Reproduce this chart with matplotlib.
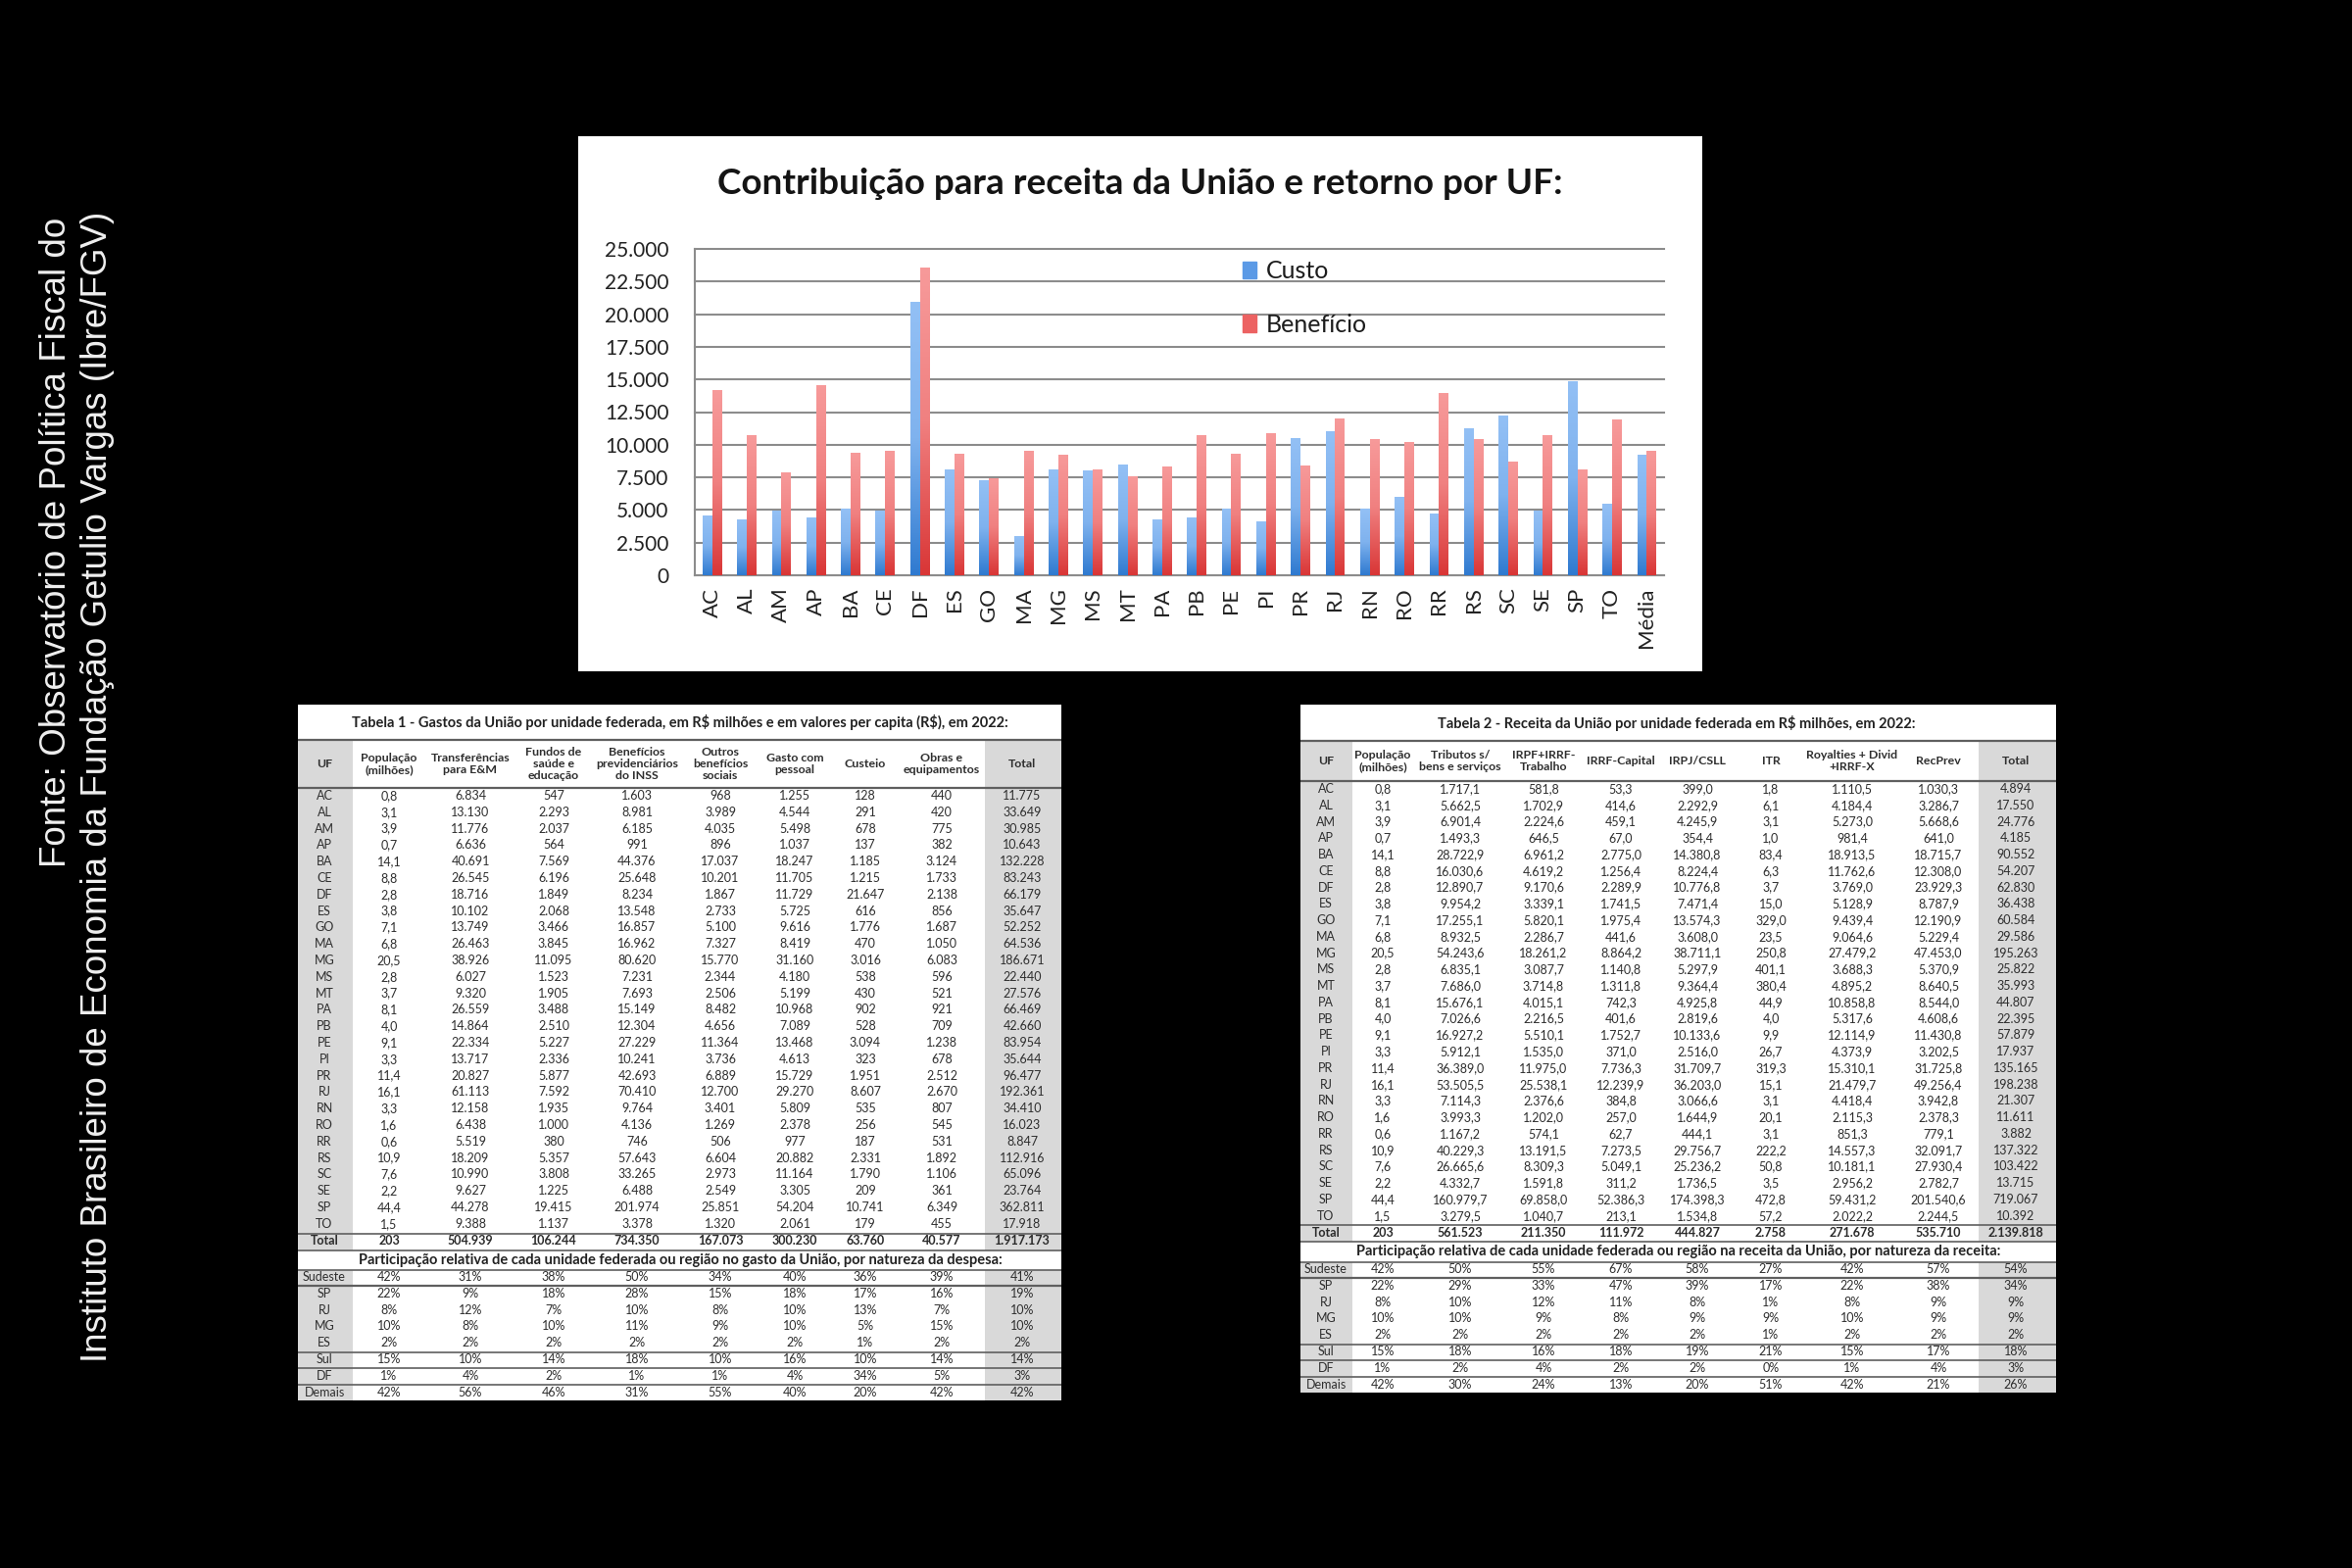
import numpy as np
import matplotlib
matplotlib.use('Agg')
import matplotlib.pyplot as plt
from matplotlib.colors import LinearSegmentedColormap
from matplotlib.patches import Rectangle, Patch

# grafico: custo e beneficio por UF (R$ per capita)
ufs_graf = ['AC', 'AL', 'AM', 'AP', 'BA', 'CE', 'DF', 'ES', 'GO', 'MA', 'MG', 'MS', 'MT', 'PA',
            'PB', 'PE', 'PI', 'PR', 'RJ', 'RN', 'RO', 'RR', 'RS', 'SC', 'SE', 'SP', 'TO', 'Média']
custo = [4570, 4250, 4915, 4360, 5100, 4890, 20900, 8100, 7230, 2975, 8100, 7970, 8475, 4225,
         4360, 5100, 4090, 10490, 11000, 5100, 5980, 4700, 11260, 12195, 4890, 14850, 5450, 9220]
beneficio = [14130, 10730, 7865, 14530, 9380, 9510, 23565, 9245, 7410, 9510, 9165, 8100, 7545, 8260,
             10730, 9245, 10865, 8370, 12010, 10390, 10150, 13920, 10415, 8635, 10730, 8100, 11875, 9510]
y_ticks = [0, 2500, 5000, 7500, 10000, 12500, 15000, 17500, 20000, 22500, 25000]
y_tick_labels = ['0', '2.500', '5.000', '7.500', '10.000', '12.500', '15.000', '17.500', '20.000', '22.500', '25.000']

# tabelas
ufs = ufs_graf[:-1]
regioes = ['Sudeste', 'SP', 'RJ', 'MG', 'ES', 'Sul', 'DF', 'Demais']
populacao = '0,8 3,1 3,9 0,7 14,1 8,8 2,8 3,8 7,1 6,8 20,5 2,8 3,7 8,1 4,0 9,1 3,3 11,4 16,1 3,3 1,6 0,6 10,9 7,6 2,2 44,4 1,5'.split()

# tabela 1
t1_titulo = 'Tabela 1 - Gastos da União por unidade federada, em R\\$ milhões e em valores per capita (R\\$), em 2022:'
t1_sub = 'Participação relativa de cada unidade federada ou região no gasto da União, por natureza da despesa:'
t1_cab = ['UF', 'População\n(milhões)', 'Transferências\npara E&M', 'Fundos de\nsaúde e\neducação',
          'Benefícios\nprevidenciários\ndo INSS', 'Outros\nbenefícios\nsociais', 'Gasto com\npessoal',
          'Custeio', 'Obras e\nequipamentos', 'Total']
t1_transf = '6.834 13.130 11.776 6.636 40.691 26.545 18.716 10.102 13.749 26.463 38.926 6.027 9.320 26.559 14.864 22.334 13.717 20.827 61.113 12.158 6.438 5.519 18.209 10.990 9.627 44.278 9.388'.split()
t1_fundos = '547 2.293 2.037 564 7.569 6.196 1.849 2.068 3.466 3.845 11.095 1.523 1.905 3.488 2.510 5.227 2.336 5.877 7.592 1.935 1.000 380 5.357 3.808 1.225 19.415 1.137'.split()
t1_inss = '1.603 8.981 6.185 991 44.376 25.648 8.234 13.548 16.857 16.962 80.620 7.231 7.693 15.149 12.304 27.229 10.241 42.693 70.410 9.764 4.136 746 57.643 33.265 6.488 201.974 3.378'.split()
t1_outros = '968 3.989 4.035 896 17.037 10.201 1.867 2.733 5.100 7.327 15.770 2.344 2.506 8.482 4.656 11.364 3.736 6.889 12.700 3.401 1.269 506 6.604 2.973 2.549 25.851 1.320'.split()
t1_pessoal = '1.255 4.544 5.498 1.037 18.247 11.705 11.729 5.725 9.616 8.419 31.160 4.180 5.199 10.968 7.089 13.468 4.613 15.729 29.270 5.809 2.378 977 20.882 11.164 3.305 54.204 2.061'.split()
t1_custeio = '128 291 678 137 1.185 1.215 21.647 616 1.776 470 3.016 538 430 902 528 3.094 323 1.951 8.607 535 256 187 2.331 1.790 209 10.741 179'.split()
t1_obras = '440 420 775 382 3.124 1.733 2.138 856 1.687 1.050 6.083 596 521 921 709 1.238 678 2.512 2.670 807 545 531 1.892 1.106 361 6.349 455'.split()
t1_total = '11.775 33.649 30.985 10.643 132.228 83.243 66.179 35.647 52.252 64.536 186.671 22.440 27.576 66.469 42.660 83.954 35.644 96.477 192.361 34.410 16.023 8.847 112.916 65.096 23.764 362.811 17.918'.split()
t1_somas = ['203', '504.939', '106.244', '734.350', '167.073', '300.230', '63.760', '40.577', '1.917.173']
t1_part = [[42, 31, 38, 50, 34, 40, 36, 39, 41],
           [22, 9, 18, 28, 15, 18, 17, 16, 19],
           [8, 12, 7, 10, 8, 10, 13, 7, 10],
           [10, 8, 10, 11, 9, 10, 5, 15, 10],
           [2, 2, 2, 2, 2, 2, 1, 2, 2],
           [15, 10, 14, 18, 10, 16, 10, 14, 14],
           [1, 4, 2, 1, 1, 4, 34, 5, 3],
           [42, 56, 46, 31, 55, 40, 20, 42, 42]]

# tabela 2
t2_titulo = 'Tabela 2 - Receita da União por unidade federada em R\\$ milhões, em 2022:'
t2_sub = 'Participação relativa de cada unidade federada ou região na receita da União, por natureza da receita:'
t2_cab = ['UF', 'População\n(milhões)', 'Tributos s/\nbens e serviços', 'IRPF+IRRF-\nTrabalho', 'IRRF-Capital',
          'IRPJ/CSLL', 'ITR', 'Royalties + Divid\n+IRRF-X', 'RecPrev', 'Total']
t2_tributos = '1.717,1 5.662,5 6.901,4 1.493,3 28.722,9 16.030,6 12.890,7 9.954,2 17.255,1 8.932,5 54.243,6 6.835,1 7.686,0 15.676,1 7.026,6 16.927,2 5.912,1 36.389,0 53.505,5 7.114,3 3.993,3 1.167,2 40.229,3 26.665,6 4.332,7 160.979,7 3.279,5'.split()
t2_irpf = '581,8 1.702,9 2.224,6 646,5 6.961,2 4.619,2 9.170,6 3.339,1 5.820,1 2.286,7 18.261,2 3.087,7 3.714,8 4.015,1 2.216,5 5.510,1 1.535,0 11.975,0 25.538,1 2.376,6 1.202,0 574,1 13.191,5 8.309,3 1.591,8 69.858,0 1.040,7'.split()
t2_irrf = '53,3 414,6 459,1 67,0 2.775,0 1.256,4 2.289,9 1.741,5 1.975,4 441,6 8.864,2 1.140,8 1.311,8 742,3 401,6 1.752,7 371,0 7.736,3 12.239,9 384,8 257,0 62,7 7.273,5 5.049,1 311,2 52.386,3 213,1'.split()
t2_irpj = '399,0 2.292,9 4.245,9 354,4 14.380,8 8.224,4 10.776,8 7.471,4 13.574,3 3.608,0 38.711,1 5.297,9 9.364,4 4.925,8 2.819,6 10.133,6 2.516,0 31.709,7 36.203,0 3.066,6 1.644,9 444,1 29.756,7 25.236,2 1.736,5 174.398,3 1.534,8'.split()
t2_itr = '1,8 6,1 3,1 1,0 83,4 6,3 3,7 15,0 329,0 23,5 250,8 401,1 380,4 44,9 4,0 9,9 26,7 319,3 15,1 3,1 20,1 3,1 222,2 50,8 3,5 472,8 57,2'.split()
t2_royalties = '1.110,5 4.184,4 5.273,0 981,4 18.913,5 11.762,6 3.769,0 5.128,9 9.439,4 9.064,6 27.479,2 3.688,3 4.895,2 10.858,8 5.317,6 12.114,9 4.373,9 15.310,1 21.479,7 4.418,4 2.115,3 851,3 14.557,3 10.181,1 2.956,2 59.431,2 2.022,2'.split()
t2_recprev = '1.030,3 3.286,7 5.668,6 641,0 18.715,7 12.308,0 23.929,3 8.787,9 12.190,9 5.229,4 47.453,0 5.370,9 8.640,5 8.544,0 4.608,6 11.430,8 3.202,5 31.725,8 49.256,4 3.942,8 2.378,3 779,1 32.091,7 27.930,4 2.782,7 201.540,6 2.244,5'.split()
t2_total = '4.894 17.550 24.776 4.185 90.552 54.207 62.830 36.438 60.584 29.586 195.263 25.822 35.993 44.807 22.395 57.879 17.937 135.165 198.238 21.307 11.611 3.882 137.322 103.422 13.715 719.067 10.392'.split()
t2_somas = ['203', '561.523', '211.350', '111.972', '444.827', '2.758', '271.678', '535.710', '2.139.818']
t2_part = [[42, 50, 55, 67, 58, 27, 42, 57, 54],
           [22, 29, 33, 47, 39, 17, 22, 38, 34],
           [8, 10, 12, 11, 8, 1, 8, 9, 9],
           [10, 10, 9, 8, 9, 9, 10, 9, 9],
           [2, 2, 2, 2, 2, 1, 2, 2, 2],
           [15, 18, 16, 18, 19, 21, 15, 17, 18],
           [1, 2, 4, 2, 2, 0, 1, 4, 3],
           [42, 30, 24, 13, 20, 51, 42, 21, 26]]

W, H = 2400, 1600
FONTE = 'Lato'
CINZA = '#d9d9d9'
LINHA = '#5f5f5f'
TEXTO = '#2e2e2e'

plt.rcParams['font.family'] = FONTE

fig = plt.figure(figsize=(24, 16), dpi=100, facecolor='black')

# fundo em coordenadas de pixel
bg = fig.add_axes([0, 0, 1, 1])
bg.set_xlim(0, W)
bg.set_ylim(H, 0)
bg.axis('off')


def caixa(x0, y0, x1, y1, cor):
    bg.add_patch(Rectangle((x0, y0), x1 - x0, y1 - y0, facecolor=cor, edgecolor='none'))


def tabela(titulo, sub, cab, colunas, somas, part, g):
    left, right = g['left'], g['right']
    caixa(left, g['top'], right, g['bottom'], 'white')
    # colunas cinzas
    for a, b in [(left, g['uf_right']), (g['tot_left'], right)]:
        caixa(a, g['head_top'], b, g['sub_top'], CINZA)
        caixa(a, g['sub_bot'], b, g['bottom'], CINZA)
    bg.text(g['tit_x'], g['tit_y'], titulo, ha='center', va='center', fontsize=g['tit_fs'],
            fontweight='bold', color='#222222')
    bg.text(g['sub_x'], (g['sub_top'] + g['sub_bot']) / 2, sub, ha='center', va='center',
            fontsize=g['sub_fs'], fontweight='bold', color='#222222')
    # cabecalho
    for x, txt in zip(g['cols'], cab):
        bg.text(x, (g['head_top'] + g['head_bot']) / 2, txt, ha='center', va='center',
                fontsize=8.9, fontweight='bold', color=TEXTO, linespacing=g['head_ls'])
    # linhas das UFs
    for i, uf in enumerate(ufs):
        y = g['row0'] + i * g['pitch']
        bg.text(g['cols'][0], y, uf, ha='center', va='center', fontsize=FS, color=TEXTO)
        for x, col in zip(g['cols'][1:], colunas):
            bg.text(x, y, col[i], ha='center', va='center', fontsize=FS, color=TEXTO)
    # total
    bg.text(g['cols'][0], g['tot_y'], 'Total', ha='center', va='center', fontsize=FS, fontweight='bold', color='#2a2a2a')
    for x, s in zip(g['cols'][1:], somas):
        bg.text(x, g['tot_y'], s, ha='center', va='center', fontsize=FS, fontweight='bold', color='#2a2a2a')
    # participacao
    for y, reg, vals in zip(g['part_y'], regioes, part):
        bg.text(g['cols'][0], y, reg, ha='center', va='center', fontsize=FS, color=TEXTO)
        for x, v in zip(g['cols'][1:], vals):
            bg.text(x, y, f'{v}%', ha='center', va='center', fontsize=FS, color=TEXTO)
    # fios
    for y, lw in g['fios']:
        bg.plot([left, right], [y, y], color=LINHA, lw=lw, solid_capstyle='butt')


FS = 9.0

geo1 = dict(left=304, right=1083, top=719, bottom=1429, tit_x=694, tit_y=737, tit_fs=10.5, sub_x=694, sub_fs=10.5,
            uf_right=360, tot_left=1005, head_top=755, head_bot=804, head_ls=1.12, sub_top=1276, sub_bot=1296,
            cols=[331, 397, 480, 565, 650, 735, 811, 883, 961, 1043],
            row0=812, pitch=16.8, tot_y=1266,
            part_y=[1303, 1320, 1337, 1353, 1370, 1387, 1404, 1421],
            fios=[(755, 1.6), (804, 1.6), (1259, 1.2), (1276, 1.2), (1296, 1.2), (1312, 1.6),
                  (1380, 1.2), (1396, 1.2), (1413, 1.2)])
geo2 = dict(left=1327, right=2098, top=719, bottom=1421, tit_x=1711, tit_y=738, tit_fs=10.5, sub_x=1713, sub_fs=10.5,
            uf_right=1380, tot_left=2019, head_top=756, head_bot=797, head_ls=1.12, sub_top=1267, sub_bot=1288,
            cols=[1353, 1411, 1490, 1575, 1654, 1732, 1807, 1890, 1978, 2057],
            row0=805, pitch=16.76, tot_y=1258,
            part_y=[1295, 1312, 1329, 1345, 1362, 1379, 1396, 1413],
            fios=[(756, 1.6), (797, 1.6), (1250, 1.2), (1267, 1.2), (1288, 1.2), (1304, 1.6),
                  (1372, 1.2), (1388, 1.2), (1405, 1.2)])

tabela(t1_titulo, t1_sub, t1_cab,
       [populacao, t1_transf, t1_fundos, t1_inss, t1_outros, t1_pessoal, t1_custeio, t1_obras, t1_total],
       t1_somas, t1_part, geo1)
tabela(t2_titulo, t2_sub, t2_cab,
       [populacao, t2_tributos, t2_irpf, t2_irrf, t2_irpj, t2_itr, t2_royalties, t2_recprev, t2_total],
       t2_somas, t2_part, geo2)

# painel do grafico
caixa(590, 139, 1737, 685, 'white')
bg.text(1163, 188, 'Contribuição para receita da União e retorno por UF:', ha='center', va='center',
        fontsize=26.6, fontweight='bold', color='#141414')

# fonte na lateral
bg.text(58, 885, 'Fonte: Observatório de Política Fiscal do', rotation=90, ha='center', va='bottom',
        fontsize=26.5, color='#f0f0f0', family='Liberation Sans')
bg.text(100, 1390, 'Instituto Brasileiro de Economia da Fundação Getulio Vargas (Ibre/FGV)', rotation=90,
        ha='center', va='bottom', fontsize=26.5, color='#f0f0f0', family='Liberation Sans')

# grafico de barras
ax = fig.add_axes([709 / W, 1 - 587 / H, (1698 - 709) / W, (587 - 254) / H])
ax.patch.set_alpha(0)
x = np.arange(len(ufs_graf))
larg = 0.277
cm_azul = LinearSegmentedColormap.from_list('azul', ['#93c0f5', '#7fb2ee', '#2f7ad0'])
cm_verm = LinearSegmentedColormap.from_list('verm', ['#f79a9a', '#f08080', '#d93636'])
grad = np.linspace(0, 1, 128).reshape(-1, 1)

barras_c = ax.bar(x - larg / 2, custo, larg, color='#5b9ae6', zorder=2, label='Custo')
barras_b = ax.bar(x + larg / 2, beneficio, larg, color='#ec6262', zorder=2, label='Benefício')
for barras, cm in [(barras_c, cm_azul), (barras_b, cm_verm)]:
    for b in barras:
        ax.imshow(grad, cmap=cm, aspect='auto', zorder=3,
                  extent=(b.get_x(), b.get_x() + b.get_width(), 0, b.get_height()))

ax.set_xlim(-0.5, len(ufs_graf) - 0.5)
ax.set_ylim(0, 25000)
ax.set_yticks(y_ticks)
ax.set_yticklabels(y_tick_labels, fontsize=15, color='#222222')
ax.set_xticks(x)
ax.set_xticklabels(ufs_graf, rotation=90, fontsize=16, color='#222222')
ax.tick_params(axis='both', length=0)
ax.tick_params(axis='y', pad=19)
ax.tick_params(axis='x', pad=9)
ax.grid(True, axis='y', color='#8c8c8c', lw=1.5, zorder=1)
ax.set_axisbelow(True)
for gl in ax.get_ygridlines():
    gl.set_clip_on(False)
for lado in ['top', 'right']:
    ax.spines[lado].set_visible(False)
for lado in ['left', 'bottom']:
    ax.spines[lado].set_color('#8c8c8c')
    ax.spines[lado].set_linewidth(1.5)

ax.legend(handles=[Patch(color='#5b9ae6', label='Custo'), Patch(color='#ec6262', label='Benefício')],
          loc='upper left', bbox_to_anchor=((1268 - 709) / (1698 - 709), 0.966), frameon=False,
          fontsize=18, handlelength=0.55, handleheight=0.7, handletextpad=0.4, labelspacing=1.25,
          labelcolor='#1c1c1c', borderpad=0, borderaxespad=0)

plt.savefig('out.png', dpi=100, facecolor='black')
